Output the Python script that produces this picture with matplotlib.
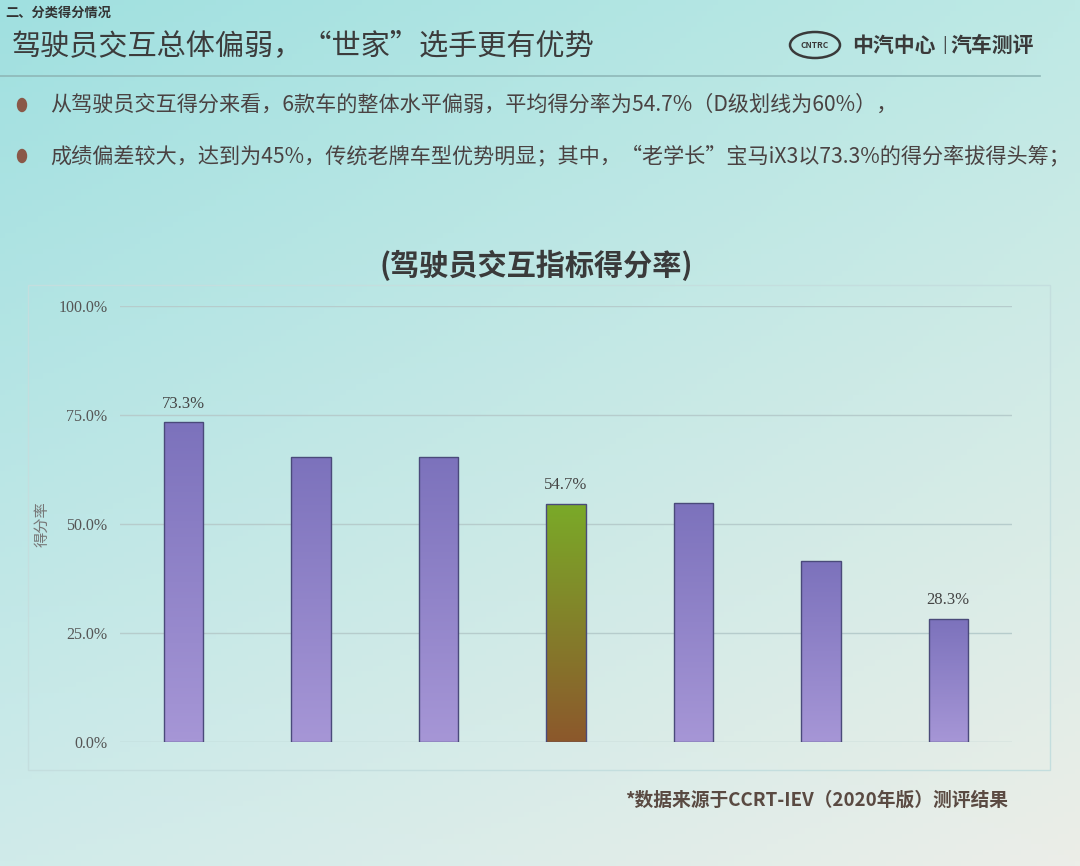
import numpy as np
import matplotlib
matplotlib.use("Agg")
import matplotlib.pyplot as plt
from matplotlib.patches import Ellipse, Rectangle
from matplotlib.lines import Line2D

plt.rcParams['font.family'] = ['Noto Sans CJK SC', 'DejaVu Sans']

# data
cars = ['车型1', '车型2', '车型3', '平均', '车型4', '车型5', '车型6']
scores = [0.733, 0.654, 0.654, 0.547, 0.549, 0.415, 0.283]
is_avg = [False, False, False, True, False, False, False]
shown_labels = {0: '73.3%', 3: '54.7%', 6: '28.3%'}
yticks = [0.0, 0.25, 0.5, 0.75, 1.0]
ytick_labels = ['0.0%', '25.0%', '50.0%', '75.0%', '100.0%']

section = '二、分类得分情况'
title = '驾驶员交互总体偏弱，“世家”选手更有优势'
bullets = ['从驾驶员交互得分来看，6款车的整体水平偏弱，平均得分率为54.7%（D级划线为60%），',
           '成绩偏差较大，达到为45%，传统老牌车型优势明显；其中，“老学长”宝马iX3以73.3%的得分率拔得头筹；']
chart_title = '(驾驶员交互指标得分率)'
source = '*数据来源于CCRT-IEV（2020年版）测评结果'

W, H = 1080, 866
fig = plt.figure(figsize=(W / 100, H / 100), dpi=100)

# background gradient (photo of a projected slide)
bg = fig.add_axes([0, 0, 1, 1], zorder=-10)
tl = np.array([160, 224, 224]) / 255
tr = np.array([190, 233, 229]) / 255
bl = np.array([208, 235, 234]) / 255
br = np.array([236, 238, 232]) / 255
gx = np.linspace(0, 1, 200)[None, :, None]
gy = np.linspace(0, 1, 160)[:, None, None]
img = (1 - gy) * ((1 - gx) * tl + gx * tr) + gy * ((1 - gx) * bl + gx * br)
bg.imshow(img, aspect='auto', extent=[0, 1, 0, 1], origin='upper')
bg.set_axis_off()

def fy(py):
    return 1 - py / H

def fx(px):
    return px / W

# header
fig.text(fx(5), fy(13), section, fontsize=9.5, fontweight='bold', color='#333333', va='center')
fig.text(fx(12), fy(46), title, fontsize=21, fontweight='medium', color='#3c3c3c', va='center')
fig.add_artist(Line2D([0, fx(1040)], [fy(76), fy(76)], color='#8fb8b8', lw=1.2))

# logo
fig.add_artist(Ellipse((fx(815), fy(45)), fx(50), 26 / H, fill=False, ec='#3a3a3a', lw=1.8))
fig.text(fx(815), fy(45), 'CNTRC', fontsize=6, color='#3a3a3a', ha='center', va='center',
         fontweight='bold')
fig.text(fx(852), fy(45), '中汽中心', fontsize=15, fontweight='bold', color='#3a3a3a', va='center')
fig.text(fx(945), fy(45), '|', fontsize=12, color='#3a3a3a', va='center', ha='center')
fig.text(fx(950), fy(45), '汽车测评', fontsize=15, fontweight='bold', color='#3a3a3a', va='center')

# bullets
for i, b in enumerate(bullets):
    yy = fy(105 + 51 * i)
    fig.add_artist(Ellipse((fx(22), yy), 9 / W, 13 / H, color='#8a5848'))
    fig.text(fx(50), yy, b, fontsize=15.2, color='#4a4242', va='center')

# chart frame
fig.add_artist(Rectangle((fx(28), fy(770)), fx(1022), (770 - 285) / H, fill=False,
                         ec='#c4dede', lw=1))

fig.text(fx(536), fy(265), chart_title, fontsize=21, fontweight='bold', color='#3a3a3a',
         ha='center', va='center')

ax = fig.add_axes([fx(120), fy(742), fx(1012 - 120), (742 - 306) / H])
ax.set_facecolor('none')
x = np.arange(len(cars))
bars = ax.bar(x, scores, width=0.31, color='none', edgecolor='#4a4a7a', linewidth=1.0, zorder=3)

purple = np.array([[124, 114, 188], [166, 150, 214]]) / 255
green = np.array([[122, 170, 40], [140, 88, 44]]) / 255
for i, b in enumerate(bars):
    c = green if is_avg[i] else purple
    t = np.linspace(0, 1, 100)[:, None, None]
    grad = (1 - t) * c[0] + t * c[1]
    im = ax.imshow(grad, extent=[b.get_x(), b.get_x() + b.get_width(), 0, b.get_height()],
                   aspect='auto', origin='upper', zorder=2)
    im.set_clip_path(b)
    if i in shown_labels:
        ax.text(b.get_x() + b.get_width() / 2, b.get_height() + 0.025, shown_labels[i],
                ha='center', va='bottom', fontsize=12, color='#444444', family='Liberation Serif')

ax.set_xlim(-0.5, len(cars) - 0.5)
ax.set_ylim(0, 1)
ax.set_yticks(yticks)
ax.set_yticklabels(ytick_labels, family='Liberation Serif', fontsize=11.5, color='#555555')
ax.set_xticks([])
ax.tick_params(axis='y', length=0, pad=9)
ax.grid(axis='y', color='#b6cccc', lw=1, zorder=0)
for s in ax.spines.values():
    s.set_visible(False)
ax.set_ylabel('得分率', fontsize=11, color='#777777', labelpad=6)

fig.text(fx(625), fy(800), source, fontsize=13.5, color='#5a4a42', va='center', fontweight='bold')

fig.savefig('out.png', dpi=100)
